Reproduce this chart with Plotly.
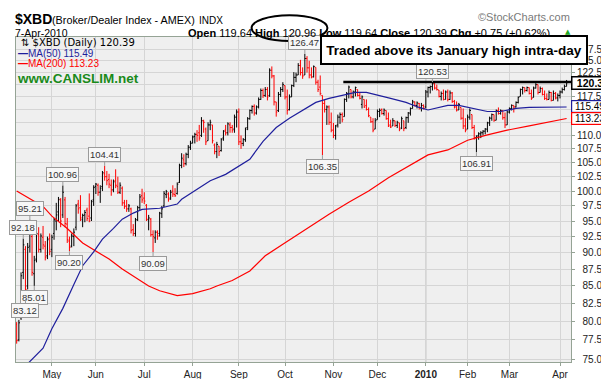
import math
import plotly.graph_objects as go

# ---------------- data ----------------
open_ = [79.6, 77.5, 80.5, 87.0, 90.5, 85.0, 91.0, 92.5, 86.8, 89.0, 92.8, 90.5, 92.4, 91.0, 89.5, 92.2,
         90.5, 93.0, 95.0, 96.5, 98.5, 96.0, 98.5, 94.5, 91.8, 91.0, 92.5, 94.0, 97.8, 97.2, 95.2, 96.0, 96.8, 95.8, 95.5, 98.5,
         100.8, 101.0, 99.8, 100.8, 103.0, 102.5, 102.0, 101.0, 100.2, 101.8, 100.8, 99.8, 100.5, 98.0, 97.5, 97.0, 97.0, 93.6, 93.0, 95.2, 97.2, 99.2,
         98.8, 97.6, 95.2, 95.3, 92.8, 92.3, 93.2, 93.0, 96.2, 97.5, 99.4, 99.5, 98.8, 100.0, 99.4, 99.6, 101.5, 104.5, 105.5, 104.8, 106.5, 107.8,
         108.6, 109.8, 110.2, 110.5, 110.0, 112.8, 111.2, 109.0, 112.0, 112.0, 108.2, 107.0, 108.0, 107.2, 109.5, 111.0, 110.5, 112.0, 111.5, 111.2, 113.5,
         114.5, 108.8, 108.5, 109.2, 111.5, 113.2, 114.8, 115.6, 114.3, 115.5, 117.0, 118.8, 117.8, 119.0, 117.8, 123.0, 121.8, 116.5, 114.8, 118.0, 119.0,
         119.8, 117.5, 115.0, 117.5, 119.8, 121.5, 122.0, 124.0, 122.5, 122.0, 125.5, 123.5, 122.0, 121.6, 123.6, 120.5, 119.5, 117.8, 116.2, 115.0, 115.5, 112.5,
         111.0, 110.0, 112.0, 113.5, 114.0, 113.6, 117.0, 118.2, 119.0, 117.5, 118.5, 119.0, 117.8, 116.0, 117.0, 115.8, 115.0, 113.5, 112.6, 111.2,
         113.0, 114.6, 115.0, 114.2, 114.8, 113.2, 112.0, 111.8, 112.8, 111.9, 112.4, 111.4, 112.8, 111.5, 113.4, 114.3, 115.2, 116.5, 115.8, 116.2, 115.3, 115.8,
         115.5, 118.5, 119.4, 119.6, 120.2, 119.3, 118.9, 117.6, 118.2, 117.0, 118.5, 117.0, 118.3, 116.6, 115.5, 114.9, 115.4, 113.3, 111.8,
         111.2, 113.5, 114.0, 111.5, 109.6, 109.9, 110.3, 110.5, 110.8, 111.2, 112.4, 113.3, 114.0, 112.9, 114.8, 114.2, 114.8, 113.4, 112.0,
         114.5, 115.2, 115.8, 115.5, 116.4, 117.6, 119.0, 119.4, 118.8, 119.4, 118.2, 117.4, 119.3, 120.0, 118.4, 119.2, 118.0, 117.2, 117.0, 118.4, 116.8, 118.2, 117.3,
         117.8, 118.5, 119.0, 119.64]

high = [79.9, 80.2, 87.0, 92.18, 91.0, 91.5, 95.21, 93.0, 89.5, 93.5, 94.0, 93.0, 94.2, 91.8, 92.5, 93.0,
        92.8, 95.5, 98.0, 99.0, 98.8, 100.96, 99.0, 95.5, 92.5, 93.0, 93.8, 97.8, 98.5, 99.3, 96.2, 96.8, 97.2, 99.6, 98.5, 101.0,
        101.4, 101.3, 101.0, 103.5, 104.41, 103.5, 103.0, 102.0, 102.0, 103.8, 102.5, 101.5, 100.8, 98.5, 98.5, 97.8, 97.2, 94.5, 95.5, 97.5, 99.5, 100.4,
        99.8, 97.8, 96.0, 95.5, 93.5, 93.5, 93.5, 96.5, 97.5, 100.0, 100.2, 99.8, 100.2, 101.0, 100.5, 101.5, 104.8, 106.7, 106.5, 106.8, 108.2, 109.0,
        110.0, 110.5, 111.0, 112.0, 113.5, 113.0, 111.5, 112.5, 113.0, 112.0, 108.5, 108.8, 108.0, 109.5, 111.0, 112.0, 112.5, 112.5, 112.0, 114.0, 115.0,
        115.2, 110.0, 109.5, 111.5, 113.5, 115.0, 115.8, 116.0, 115.8, 117.4, 119.2, 119.2, 119.5, 119.5, 123.4, 123.8, 122.0, 116.5, 118.5, 119.5, 120.5,
        119.8, 119.0, 118.0, 120.0, 122.6, 122.5, 124.5, 125.2, 123.6, 126.47, 126.0, 125.0, 123.6, 124.0, 123.6, 121.0, 121.9, 117.8, 116.9, 115.8, 115.8, 114.4,
        112.4, 112.0, 114.0, 114.4, 114.4, 117.2, 118.5, 119.8, 119.0, 118.8, 119.6, 119.0, 118.5, 117.8, 117.0, 117.0, 115.4, 113.5, 113.3, 113.3,
        115.0, 115.2, 115.2, 115.2, 114.8, 114.4, 113.0, 113.3, 112.8, 112.8, 112.4, 113.6, 112.8, 113.6, 114.5, 115.4, 116.9, 116.6, 116.6, 116.3, 116.3, 116.0,
        118.9, 119.6, 119.8, 120.53, 120.3, 120.0, 118.9, 118.6, 119.0, 118.8, 119.0, 118.8, 118.5, 116.9, 116.6, 116.3, 115.4, 115.2, 113.3,
        114.0, 115.2, 114.0, 112.0, 110.0, 110.6, 110.8, 111.0, 111.4, 112.6, 113.6, 114.2, 114.0, 115.0, 115.4, 115.0, 114.8, 114.4, 114.8,
        115.4, 116.0, 115.8, 116.6, 117.6, 119.2, 119.6, 119.4, 119.6, 119.4, 119.0, 119.6, 120.3, 120.0, 119.6, 119.4, 118.8, 118.2, 118.8, 118.5, 118.8, 118.5, 118.2,
        118.8, 119.4, 120.0, 120.96]

low = [77.0, 77.3, 80.2, 86.0, 83.12, 84.5, 90.0, 86.5, 85.01, 88.5, 90.0, 90.0, 90.5, 88.8, 89.0, 89.6,
       89.3, 92.0, 93.5, 95.0, 94.0, 95.5, 94.0, 91.5, 90.20, 90.8, 91.0, 93.5, 96.2, 95.0, 94.0, 94.8, 95.0, 94.8, 95.0, 97.5,
       99.5, 99.2, 98.0, 100.0, 101.8, 101.0, 100.5, 99.2, 99.8, 100.5, 99.5, 99.5, 97.5, 97.0, 96.5, 96.5, 93.0, 92.6, 92.5, 95.0, 96.8, 98.0,
       97.8, 95.0, 93.5, 92.5, 90.09, 91.5, 92.0, 92.5, 95.5, 97.3, 98.8, 98.2, 98.5, 99.0, 99.0, 99.4, 101.4, 104.0, 104.2, 104.5, 105.8, 107.3,
       108.5, 108.5, 108.8, 109.0, 109.7, 110.5, 108.2, 109.0, 111.0, 108.5, 106.5, 105.8, 106.2, 107.0, 109.0, 110.0, 110.0, 110.5, 110.5, 110.5, 111.5,
       108.2, 107.5, 108.0, 108.8, 111.0, 113.0, 114.2, 113.8, 114.0, 115.2, 116.9, 117.3, 117.5, 116.8, 117.5, 121.3, 115.8, 113.6, 114.5, 117.5, 118.5,
       117.0, 114.0, 114.8, 117.5, 119.5, 120.5, 122.0, 121.9, 121.2, 122.0, 122.5, 121.3, 121.3, 121.5, 120.0, 118.5, 117.8, 106.35, 114.4, 112.0, 112.0, 110.6,
       109.5, 109.2, 111.5, 112.2, 112.5, 113.6, 116.5, 117.2, 117.2, 117.2, 117.6, 117.6, 117.0, 115.2, 115.3, 114.8, 113.5, 112.4, 110.6, 111.2,
       113.0, 113.5, 114.0, 113.8, 113.0, 111.6, 111.4, 111.8, 111.6, 111.4, 110.8, 111.2, 110.8, 111.2, 112.4, 113.8, 115.2, 115.6, 115.2, 115.0, 114.6, 115.0,
       115.2, 117.4, 118.2, 118.8, 119.0, 118.8, 117.4, 116.8, 116.8, 117.0, 116.6, 116.9, 116.3, 115.2, 114.6, 114.9, 113.0, 111.2, 110.6,
       111.2, 113.0, 111.2, 109.2, 106.91, 109.2, 109.5, 110.0, 110.2, 110.6, 111.8, 112.8, 112.6, 112.9, 114.0, 114.0, 113.0, 111.4, 112.0,
       114.2, 114.8, 114.4, 115.4, 116.2, 117.6, 118.0, 118.4, 118.6, 118.0, 116.9, 117.4, 119.2, 118.0, 118.4, 117.8, 116.9, 116.8, 117.0, 116.6, 116.8, 117.0, 116.6,
       117.2, 118.2, 118.8, 119.64]

close = [77.4, 79.8, 86.5, 91.2, 84.5, 90.8, 93.0, 87.0, 88.8, 93.0, 90.5, 92.6, 91.2, 89.3, 92.0, 90.2,
         92.4, 95.2, 96.0, 98.6, 95.0, 99.8, 94.6, 92.0, 90.8, 92.6, 93.2, 97.5, 97.0, 95.5, 95.9, 96.4, 95.4, 95.0, 98.2, 100.6,
         101.2, 99.8, 100.5, 103.2, 102.5, 101.8, 101.2, 100.2, 101.6, 101.0, 99.8, 101.0, 98.0, 97.4, 97.0, 97.5, 93.5, 93.0, 95.2, 97.2, 99.0, 98.5,
         98.3, 95.3, 95.5, 92.8, 92.5, 93.2, 92.6, 96.3, 97.0, 99.6, 99.9, 98.6, 99.8, 99.5, 99.2, 101.2, 104.5, 105.8, 104.8, 106.5, 107.8, 108.5,
         109.7, 110.2, 110.0, 109.5, 112.8, 112.5, 108.8, 112.0, 112.5, 109.0, 107.0, 108.3, 107.0, 109.2, 110.8, 110.5, 112.2, 111.5, 111.0, 113.5, 114.5,
         108.8, 108.5, 109.2, 111.2, 113.2, 114.8, 115.6, 114.3, 115.5, 117.0, 118.8, 117.8, 119.0, 117.5, 123.0, 121.8, 116.5, 114.5, 118.0, 119.0, 120.0,
         117.5, 114.8, 117.5, 119.8, 121.5, 122.0, 124.0, 122.5, 121.8, 125.5, 123.5, 122.0, 121.6, 123.8, 120.5, 119.0, 118.2, 116.2, 115.0, 115.5, 112.5, 111.0,
         110.0, 111.8, 113.5, 114.0, 113.0, 117.0, 118.2, 119.5, 117.5, 118.5, 119.4, 117.8, 117.2, 117.5, 115.5, 115.0, 113.8, 112.6, 111.0, 112.8,
         114.6, 114.8, 114.2, 114.9, 113.2, 111.8, 111.6, 112.8, 111.9, 112.5, 111.2, 113.2, 111.3, 113.4, 114.3, 115.2, 116.5, 115.8, 116.3, 115.3, 115.8, 115.2,
         118.5, 119.4, 119.6, 120.2, 119.3, 119.0, 117.6, 118.2, 117.0, 118.5, 117.0, 118.3, 116.6, 115.5, 114.9, 116.0, 113.3, 111.8, 111.0,
         113.5, 114.8, 111.5, 109.6, 109.9, 110.3, 110.5, 110.8, 111.2, 112.4, 113.3, 114.0, 112.9, 114.8, 114.2, 114.8, 113.4, 112.0, 114.5,
         115.2, 115.8, 115.5, 116.4, 117.4, 119.0, 119.4, 118.8, 119.4, 118.2, 117.2, 119.3, 120.0, 118.4, 119.2, 118.0, 117.2, 117.0, 118.4, 116.8, 118.2, 117.3, 117.8,
         118.5, 119.0, 119.64, 120.39]

# first trading day of each month (bar index) and their labels
month_idx = [16, 36, 58, 80, 101, 122, 144, 164, 186, 205, 224, 247]
month_lbl = ["May", "Jun", "Jul", "Aug", "Sep", "Oct", "Nov", "Dec", "<b>2010</b>", "Feb", "Mar", "Apr"]
year_start_idx = 186

# moving averages sampled along the chart
ma50_idx = [5, 12, 16, 21, 26, 30, 35, 39, 44, 48, 53, 57, 65, 73, 75, 82, 88, 95, 101, 106, 112, 118,
            124, 130, 136, 142, 148, 154, 159, 165, 170, 177, 183, 187, 196, 201, 207, 214, 220, 227, 233, 242, 250]
ma50_val = [74.4, 76.4, 79.0, 81.8, 85.2, 88.0, 90.1, 92.1, 93.8, 95.3, 96.3, 96.9, 97.1, 97.8, 98.6, 100.3,
            101.8, 102.9, 104.3, 105.6, 108.9, 111.5, 113.3, 114.9, 116.4, 117.2, 117.8, 118.4, 118.4, 117.8,
            117.2, 116.4, 115.4, 114.9, 115.8, 115.8, 115.2, 114.6, 114.6, 115.2, 115.4, 115.4, 115.49]
ma200_idx = [0, 12, 16, 23, 30, 36, 42, 48, 55, 60, 65, 73, 80, 88, 91, 98, 106, 113, 121, 128, 133,
             142, 151, 160, 169, 178, 187, 196, 205, 214, 223, 233, 242, 250]
ma200_val = [100.0, 97.4, 95.8, 93.8, 91.5, 90.3, 89.0, 87.5, 86.1, 85.0, 84.3, 83.6, 83.9, 84.6, 85.0,
             85.8, 87.2, 89.5, 91.3, 92.9, 94.0, 96.1, 98.1, 100.0, 102.3, 104.3, 106.4, 107.3, 109.1,
             110.1, 111.0, 111.8, 112.5, 113.23]

# swing highs / lows labelled on the chart
peak_idx = [131, 189, 40, 21, 6, 3]
peak_val = [126.47, 120.53, 104.41, 100.96, 95.21, 92.18]
trough_idx = [139, 209, 24, 62, 8, 4]
trough_val = [106.35, 106.91, 90.20, 90.09, 85.01, 83.12]

ytick_vals = [75.0, 77.5, 80.0, 82.5, 85.0, 87.5, 90.0, 92.5, 95.0, 97.5, 100.0, 102.5, 105.0,
              107.5, 110.0, 112.5, 115.0, 117.5, 120.0, 122.5, 125.0, 127.5]
ytick_hidden = [112.5, 115.0, 120.0]   # labels covered by the value tags in the reference

last_close, ma50_last, ma200_last = 120.39, 115.49, 113.23
jan_high = 120.53

# ---------------- figure ----------------
L, R, T, B = 7, 563, 29, 357
def px(x):
    return (x - L) / (R - L)
def py(y):
    return (B - y) / (B - T)

BLUE = "#1e1e9c"
RED = "#ff0000"
AXC = "#95a395"
GRID = "#d5d5d5"
SANS = "Liberation Sans, Arial, sans-serif"

n = len(close)
up = [i for i in range(n) if i > 0 and close[i] >= close[i - 1]]
dn = [i for i in range(n) if i == 0 or close[i] < close[i - 1]]

fig = go.Figure()
fig.add_trace(go.Scatter(x=ma200_idx, y=ma200_val, mode="lines",
                         line=dict(color=RED, width=1.2), hoverinfo="skip"))
fig.add_trace(go.Scatter(x=ma50_idx, y=ma50_val, mode="lines",
                         line=dict(color=BLUE, width=1.2), hoverinfo="skip"))
for idxs, col in ((up, "#000000"), (dn, RED)):
    fig.add_trace(go.Ohlc(
        x=idxs,
        open=[open_[i] for i in idxs], high=[high[i] for i in idxs],
        low=[low[i] for i in idxs], close=[close[i] for i in idxs],
        increasing=dict(line=dict(color=col, width=1)),
        decreasing=dict(line=dict(color=col, width=1)),
        tickwidth=0.5, hoverinfo="skip"))
fig.add_trace(go.Scatter(x=[148.5, 252.5], y=[jan_high, jan_high], mode="lines",
                         line=dict(color="black", width=2.5), hoverinfo="skip"))

ann = []
# swing labels
for i, v in zip(peak_idx, peak_val):
    ann.append(dict(x=i, y=math.log10(v), xref="x", yref="y", text=f"{v:.2f}", showarrow=True,
                    arrowhead=0, arrowwidth=1, arrowcolor="#9a9a9a", ax=0, ay=-11,
                    bgcolor="#f7f7f7", bordercolor="#9a9a9a", borderwidth=1, borderpad=1,
                    font=dict(family=SANS, size=9.5, color="#333")))
for i, v in zip(trough_idx, trough_val):
    ann.append(dict(x=i, y=math.log10(v), xref="x", yref="y", text=f"{v:.2f}", showarrow=True,
                    arrowhead=0, arrowwidth=1, arrowcolor="#9a9a9a", ax=0, ay=11.5,
                    bgcolor="#f7f7f7", bordercolor="#9a9a9a", borderwidth=1, borderpad=1,
                    font=dict(family=SANS, size=9.5, color="#333")))

# right-axis value tags (explicit box sizes, placed as in the reference)
for v, bc, bold, left_px, w in ((last_close, "#000000", True, 563, 41),
                                (ma50_last, BLUE, False, 563, 36),
                                (ma200_last, RED, False, 563, 36)):
    t = f"{v:.2f}"
    ann.append(dict(x=px(left_px), y=math.log10(v), xref="paper", yref="y",
                    xanchor="left", yanchor="middle", align="center",
                    width=w, height=11,
                    text=f"<b>{t}</b>" if bold else t, showarrow=False, bgcolor="white",
                    bordercolor=bc, borderwidth=1.5 if bold else 1.2, borderpad=0,
                    font=dict(family=SANS, size=10.5 if bold else 10, color="black")))

# legend block inside plot
ann.append(dict(x=px(10), y=py(35), xref="paper", yref="paper", xanchor="left", yanchor="middle",
                text=f"⇅ $XBD (Daily) {last_close:.2f}", showarrow=False,
                font=dict(family="DejaVu Sans, sans-serif", size=10, color="black")))
ann.append(dict(x=px(7), y=py(45.5), xref="paper", yref="paper", xanchor="left", yanchor="middle",
                text=f"<b>—</b>MA(50) {ma50_last:.2f}", showarrow=False,
                font=dict(family=SANS, size=10, color=BLUE)))
ann.append(dict(x=px(7), y=py(56), xref="paper", yref="paper", xanchor="left", yanchor="middle",
                text=f"<b>—</b>MA(200) {ma200_last:.2f}", showarrow=False,
                font=dict(family=SANS, size=10, color=RED)))
ann.append(dict(x=px(6), y=py(71), xref="paper", yref="paper", xanchor="left", yanchor="middle",
                text="<b>www.CANSLIM.net</b>", showarrow=False,
                font=dict(family=SANS, size=13.5, color="#1a8a1a")))

# header
ann.append(dict(x=px(4), y=py(11), xref="paper", yref="paper", xanchor="left", yanchor="middle",
                text="<b>$XBD</b>", showarrow=False, font=dict(family=SANS, size=14, color="black")))
ann.append(dict(x=px(41), y=py(12), xref="paper", yref="paper", xanchor="left", yanchor="middle",
                text="(Broker/Dealer Index - AMEX)", showarrow=False,
                font=dict(family=SANS, size=10.8, color="black")))
ann.append(dict(x=px(188), y=py(12), xref="paper", yref="paper", xanchor="left", yanchor="middle",
                text="INDX", showarrow=False, font=dict(family=SANS, size=10, color="black")))
ann.append(dict(x=px(4), y=py(24.5), xref="paper", yref="paper", xanchor="left", yanchor="middle",
                text="7-Apr-2010", showarrow=False, font=dict(family=SANS, size=10.5, color="black")))
ann.append(dict(x=px(177), y=py(24.5), xref="paper", yref="paper", xanchor="left", yanchor="middle",
                text="<b>Open</b> 119.64 <b>High</b> 120.96 <b>Low</b> 119.64 <b>Close</b> 120.39 "
                     "<b>Chg</b> +0.75 (+0.62%)",
                showarrow=False, font=dict(family=SANS, size=11, color="black")))
ann.append(dict(x=px(560), y=py(23.5), xref="paper", yref="paper", xanchor="center", yanchor="middle",
                text="▲", showarrow=False, font=dict(family="DejaVu Sans", size=7, color="#22aa22")))
ann.append(dict(x=px(564), y=py(9), xref="paper", yref="paper", xanchor="right", yanchor="middle",
                text="©StockCharts.com", showarrow=False, font=dict(family=SANS, size=11, color="#7a7a7a")))

# callout box
ann.append(dict(x=px(446), y=py(42), xref="paper", yref="paper", xanchor="center", yanchor="middle",
                text="<b>Traded above its January high intra-day</b>", showarrow=False,
                bgcolor="white", bordercolor="black", borderwidth=2, borderpad=1,
                width=262, height=24,
                font=dict(family=SANS, size=13.5, color="black")))

shapes = [
    dict(type="line", xref="x", yref="paper", x0=year_start_idx, x1=year_start_idx, y0=0, y1=1,
         line=dict(color="#b4b4b4", width=1), layer="below"),
    dict(type="circle", xref="paper", yref="paper",
         x0=px(243), x1=px(319), y0=py(33), y1=py(7),
         line=dict(color="black", width=2), layer="above"),
]

fig.update_layout(
    width=609, height=379,
    margin=dict(l=L, r=609 - R, t=T, b=379 - B),
    paper_bgcolor="white", plot_bgcolor="#efefef",
    showlegend=False,
    font=dict(family=SANS, size=10, color="#222"),
    annotations=ann, shapes=shapes,
)
fig.update_xaxes(
    range=[-0.3, 252], tickmode="array", tickvals=month_idx, ticktext=month_lbl,
    showgrid=True, gridcolor=GRID, gridwidth=1, zeroline=False,
    ticks="outside", ticklen=3, tickcolor=AXC,
    showline=True, linecolor=AXC, linewidth=1, mirror=True,
    rangeslider=dict(visible=False),
    tickfont=dict(family=SANS, size=10, color="#222"),
)
fig.update_yaxes(
    type="log", side="right",
    range=[math.log10(74.62), math.log10(130.2)],
    tickmode="array", tickvals=ytick_vals,
    ticktext=["" if v in ytick_hidden else ("\u2007" if v < 100 else "") + f"{v:.1f}"
              for v in ytick_vals],
    showgrid=True, gridcolor=GRID, gridwidth=1, zeroline=False,
    ticks="outside", ticklen=3, tickcolor=AXC,
    showline=True, linecolor=AXC, linewidth=1, mirror=True,
    tickfont=dict(family=SANS, size=10, color="#222"),
)

fig.write_html("out.html")
